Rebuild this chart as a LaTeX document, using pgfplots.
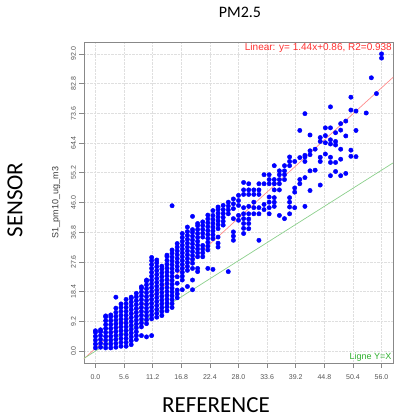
\documentclass[border=0pt]{standalone}
\usepackage{pgfplots}
\pgfplotsset{compat=1.18}
\usepackage{fontspec}
\setmainfont{Liberation Sans}
\newfontfamily\calib{Carlito}
\definecolor{tickgray}{HTML}{555555}
\definecolor{boxgray}{HTML}{888888}
\definecolor{regred}{HTML}{FF8C8C}
\definecolor{txtred}{HTML}{FF3030}
\definecolor{idgreen}{HTML}{8CD08C}
\definecolor{txtgreen}{HTML}{30B030}
\begin{document}
\begin{tikzpicture}[x=1pt,y=1pt]
\path[use as bounding box] (-84,-55) rectangle (312,363);
\begin{axis}[
  at={(0,0)}, anchor=south west,
  scale only axis, width=309pt, height=321pt,
  xmin=-2.24, xmax=58.24, ymin=-3.68, ymax=95.68,
  xtick={0,5.6,11.2,16.8,22.4,28,33.6,39.2,44.8,50.4,56},
  xticklabels={0.0,5.6,11.2,16.8,22.4,28.0,33.6,39.2,44.8,50.4,56.0},
  ytick={0,9.2,18.4,27.6,36.8,46,55.2,64.4,73.6,82.8,92},
  yticklabels={0.0,9.2,18.4,27.6,36.8,46.0,55.2,64.4,73.6,82.8,92.0},
  xtick pos=lower, ytick pos=left,
  tick align=outside, major tick length=4.5pt,
  tick style={boxgray, line width=0.6pt},
  axis line style={boxgray, line width=0.7pt},
  grid=major, major grid style={densely dotted, gray!25, line width=0.6pt},
  xticklabel style={font=\fontsize{7}{8}\selectfont, text=tickgray, yshift=-4pt},
  yticklabel style={font=\fontsize{7}{8}\selectfont, text=tickgray, rotate=90, anchor=south},
  ylabel={S1\_pm10\_ug\_m3},
  ylabel style={font=\fontsize{9}{10}\selectfont, text=tickgray!70!black, yshift=4pt},
  clip=true,
]
\addplot[regred, line width=0.7pt] coordinates {(-3,-3.46) (60,87.26)};
\addplot[idgreen, line width=0.7pt] coordinates {(-5,-5) (60,60)};
\addplot[only marks, mark=*, mark size=2.2pt, color=blue, fill=blue] table {
x y
0 1.0
0 2.2
0 3.4
0 4.6
0 5.8
0 6.3
1 1.2
1 2.4
1 3.6
1 4.8
1 6.0
1 6.6
2 1.0
2 2.2
2 3.4
2 4.6
2 5.8
2 7.0
2 8.2
2 9.4
2 10.6
2 10.9
3 1.0
3 2.2
3 3.4
3 4.6
3 5.8
3 7.0
3 8.2
3 9.4
3 10.6
3 11.2
4 1.2
4 2.4
4 3.6
4 4.8
4 6.0
4 7.2
4 8.4
4 9.6
4 10.8
4 12.0
4 13.3
4 16.7
5 1.5
5 2.7
5 3.9
5 5.1
5 6.3
5 7.5
5 8.7
5 9.9
5 11.1
5 12.3
5 13.5
5 14.6
6 1.5
6 2.7
6 3.9
6 5.1
6 6.3
6 7.5
6 8.7
6 9.9
6 11.1
6 12.3
6 13.5
6 14.7
6 16.0
7 2.0
7 3.2
7 4.4
7 5.6
7 6.8
7 8.0
7 9.2
7 10.4
7 11.6
7 12.8
7 14.0
7 15.2
7 16.4
7 16.7
8 3.6
8 4.8
8 6.0
8 7.2
8 8.4
8 9.6
8 10.8
8 12.0
8 13.2
8 14.4
8 15.6
8 16.8
8 17.9
9 4.8
9 7.5
9 8.7
9 9.9
9 11.1
9 12.3
9 13.5
9 14.7
9 15.9
9 17.1
9 18.3
9 19.5
9 19.9
10 4.4
10 8.5
10 9.7
10 10.9
10 12.1
10 13.3
10 14.5
10 15.7
10 16.9
10 18.1
10 19.3
10 20.5
10 21.7
10 22.0
11 4.8
11 10.0
11 11.2
11 12.4
11 13.6
11 14.8
11 16.0
11 17.2
11 18.4
11 19.6
11 20.8
11 22.0
11 23.2
11 24.4
11 25.6
11 26.8
11 28.0
11 29.0
12 10.5
12 11.7
12 12.9
12 14.1
12 15.3
12 16.5
12 17.7
12 18.9
12 20.1
12 21.3
12 22.5
12 23.7
12 24.9
12 26.1
12 27.3
12 28.2
13 11.0
13 12.2
13 13.4
13 14.6
13 15.8
13 17.0
13 18.2
13 19.4
13 20.6
13 21.8
13 23.0
13 24.2
13 25.4
13 26.3
14 12.5
14 13.7
14 14.9
14 16.1
14 17.3
14 18.5
14 19.7
14 20.9
14 22.1
14 23.3
14 24.5
14 25.7
14 26.9
14 28.1
14 29.3
14 29.7
15 13.5
15 14.7
15 15.9
15 17.1
15 18.3
15 19.5
15 20.7
15 21.9
15 23.1
15 24.3
15 25.5
15 26.7
15 27.9
15 29.1
15 30.3
15 31.3
15 45.0
16 16.5
16 17.7
16 18.9
16 21.0
16 23.0
16 25.0
16 26.2
16 27.4
16 28.6
16 29.8
16 31.0
16 32.2
16 33.3
17 19.0
17 22.0
17 23.2
17 24.4
17 25.6
17 26.8
17 28.0
17 29.2
17 30.4
17 31.6
17 32.8
17 34.0
17 35.2
17 36.4
18 20.0
18 25.0
18 26.2
18 27.4
18 28.6
18 29.8
18 31.0
18 32.2
18 33.4
18 34.6
18 35.8
18 37.0
18 38.4
19 19.0
19 22.0
19 25.6
19 27.2
19 28.4
19 29.6
19 30.8
19 32.0
19 33.2
19 34.4
19 35.6
19 36.8
19 37.6
19 41.7
20 24.6
20 25.6
20 29.2
20 30.4
20 31.6
20 32.8
20 34.0
20 35.2
20 36.4
20 37.6
20 38.8
20 39.5
21 29.2
21 30.4
21 31.6
21 32.7
21 35.3
21 36.5
21 37.7
21 38.9
21 40.0
22 25.6
22 31.3
22 32.5
22 33.7
22 34.9
22 36.1
22 37.3
22 38.5
22 39.7
22 40.9
22 42.1
23 25.3
23 34.8
23 36.0
23 37.2
23 38.4
23 39.6
23 40.8
23 42.0
23 43.5
24 32.2
24 33.4
24 35.3
24 37.9
24 39.1
24 40.3
24 41.5
24 42.7
24 43.9
24 44.6
25 39.0
25 40.2
25 41.4
25 42.6
25 43.8
25 45.1
26 24.6
26 42.5
26 43.7
26 44.9
26 46.1
27 34.3
27 35.6
27 36.9
27 41.0
27 44.1
27 45.6
27 47.1
28 40.5
28 42.0
28 45.1
28 46.6
28 48.2
29 36.4
29 38.0
29 39.5
29 41.0
29 42.5
29 44.4
29 48.5
29 49.9
29 52.2
30 37.9
30 39.5
30 40.9
30 42.5
30 44.8
30 48.5
30 49.9
30 51.8
31 42.5
31 44.4
31 46.1
31 48.5
31 49.9
32 34.3
32 42.5
32 44.4
32 48.5
32 49.9
32 51.8
33 43.8
33 45.4
33 51.8
33 54.6
34 42.5
34 44.4
34 46.1
34 47.7
34 51.8
34 53.1
34 54.6
35 44.8
35 46.1
35 47.5
35 49.9
35 51.8
35 53.1
35 57.4
36 42.0
36 49.9
36 51.8
36 53.1
36 54.6
36 55.8
37 41.0
37 53.1
37 54.6
37 55.8
37 57.4
38 42.5
38 44.6
38 46.1
38 47.5
38 57.4
38 58.7
38 60.1
39 44.4
39 49.2
39 50.5
39 58.7
40 51.8
40 53.1
40 59.9
40 68.3
41 44.8
41 53.7
41 58.7
41 60.1
41 60.6
41 73.5
42 49.7
42 55.8
42 60.8
42 62.0
42 66.9
43 56.0
43 62.5
44 51.4
44 58.7
44 60.0
44 64.9
44 66.1
45 61.0
45 64.5
45 66.7
45 69.1
46 54.3
46 58.4
46 60.0
46 64.1
46 65.4
46 69.1
46 75.6
47 55.6
47 58.4
47 63.8
47 64.9
47 67.6
48 54.3
48 59.4
48 62.5
48 68.4
48 70.4
49 55.0
49 66.6
49 71.2
50 60.3
50 62.2
50 74.6
50 78.6
51 60.2
51 68.3
51 74.3
53 73.7
54 84.6
55 79.7
56 90.7
56 92.0
};
\node[anchor=north east, text=txtred, font=\fontsize{10}{12}\selectfont, inner sep=1pt] at (rel axis cs:1,1) {Linear: y= 1.44x+0.86, R2=0.938};
\node[anchor=south east, text=txtgreen, font=\fontsize{9}{10}\selectfont, inner sep=1.5pt] at (rel axis cs:1,0) {Ligne Y=X};
\end{axis}
\node[font=\calib\fontsize{16}{18}\selectfont] at (156,351) {PM2.5};
\node[font=\calib\fontsize{23}{26}\selectfont, rotate=90] at (-69,163) {SENSOR};
\node[font=\calib\fontsize{23}{26}\selectfont] at (132,-42) {REFERENCE};
\end{tikzpicture}
\end{document}
